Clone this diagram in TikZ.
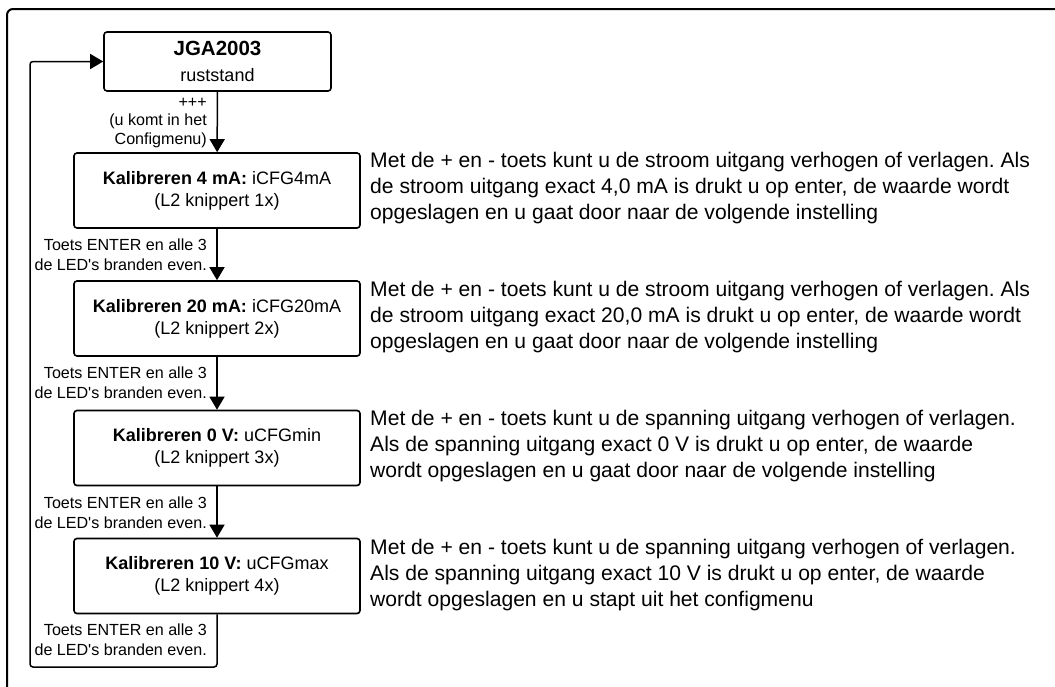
\documentclass[tikz,border=0pt]{standalone}
\usepackage{fontspec}
\setmainfont{Liberation Sans}[Ligatures=TeXOff]
\usetikzlibrary{arrows.meta}
\frenchspacing
\begin{document}
\begin{tikzpicture}[x=1pt,y=-1pt,
  box/.style={draw, line width=1.6pt, rounded corners=3pt, minimum width=286pt, minimum height=75pt, align=center, font=\fontsize{18}{22}\selectfont, inner sep=0pt},
  lbl/.style={align=right, anchor=east, font=\fontsize{16.1}{20}\selectfont, inner sep=0pt},
  desc/.style={align=left, anchor=west, font=\fontsize{21.1}{25.8}\selectfont, inner sep=0pt},
  arr/.style={line width=1.5pt, -{Triangle[length=13pt,width=15pt]}},
  frame/.style={line width=2pt, rounded corners=6pt}
]
\useasboundingbox (0,0) rectangle (1055,686);
\draw[frame] (7,700) -- (7,9) -- (1070,9);

\node[box, minimum width=227pt, minimum height=59pt, font=\fontsize{18}{26}\selectfont] (top) at (217.5,61.5) {{\fontsize{20.5}{26}\selectfont\bfseries JGA2003}\\ruststand};
\node[box] (b1) at (217,190.5) {\textbf{Kalibreren 4 mA:} iCFG4mA\\(L2 knippert 1x)};
\node[box] (b2) at (217,318.5) {\textbf{Kalibreren 20 mA:} iCFG20mA\\(L2 knippert 2x)};
\node[box] (b3) at (217,448) {\textbf{Kalibreren 0 V:} uCFGmin\\(L2 knippert 3x)};
\node[box] (b4) at (217,576) {\textbf{Kalibreren 10 V:} uCFGmax\\(L2 knippert 4x)};

\node[lbl, font=\fontsize{16.1}{18.5}\selectfont] (l0) at (207,123) {+++\\(u komt in het\\Configmenu)};
\node[lbl] (l1) at (207,255) {Toets ENTER en alle 3\\de LED's branden even.};
\node[lbl] (l2) at (207,383) {Toets ENTER en alle 3\\de LED's branden even.};
\node[lbl] (l3) at (207,512.5) {Toets ENTER en alle 3\\de LED's branden even.};
\node[lbl] (l4) at (207,640) {Toets ENTER en alle 3\\de LED's branden even.};

\node[desc] (d1) at (370,188) {Met de + en - toets kunt u de stroom uitgang verhogen of verlagen. Als\\de stroom uitgang exact 4,0 mA is drukt u op enter, de waarde wordt\\opgeslagen en u gaat door naar de volgende instelling};
\node[desc] (d2) at (370,317) {Met de + en - toets kunt u de stroom uitgang verhogen of verlagen. Als\\de stroom uitgang exact 20,0 mA is drukt u op enter, de waarde wordt\\opgeslagen en u gaat door naar de volgende instelling};
\node[desc] (d3) at (370,446) {Met de + en - toets kunt u de spanning uitgang verhogen of verlagen.\\Als de spanning uitgang exact 0 V is drukt u op enter, de waarde\\wordt opgeslagen en u gaat door naar de volgende instelling};
\node[desc] (d4) at (370,575) {Met de + en - toets kunt u de spanning uitgang verhogen of verlagen.\\Als de spanning uitgang exact 10 V is drukt u op enter, de waarde\\wordt opgeslagen en u stapt uit het configmenu};

\draw[arr] (top) -- (b1);
\draw[arr] (b1) -- (b2);
\draw[arr] (b2) -- (b3);
\draw[arr] (b3) -- (b4);
\coordinate (c1) at (30,667);
\draw[arr, rounded corners=3pt] (b4.south) |- (c1) |- (top.west);
\end{tikzpicture}
\end{document}
